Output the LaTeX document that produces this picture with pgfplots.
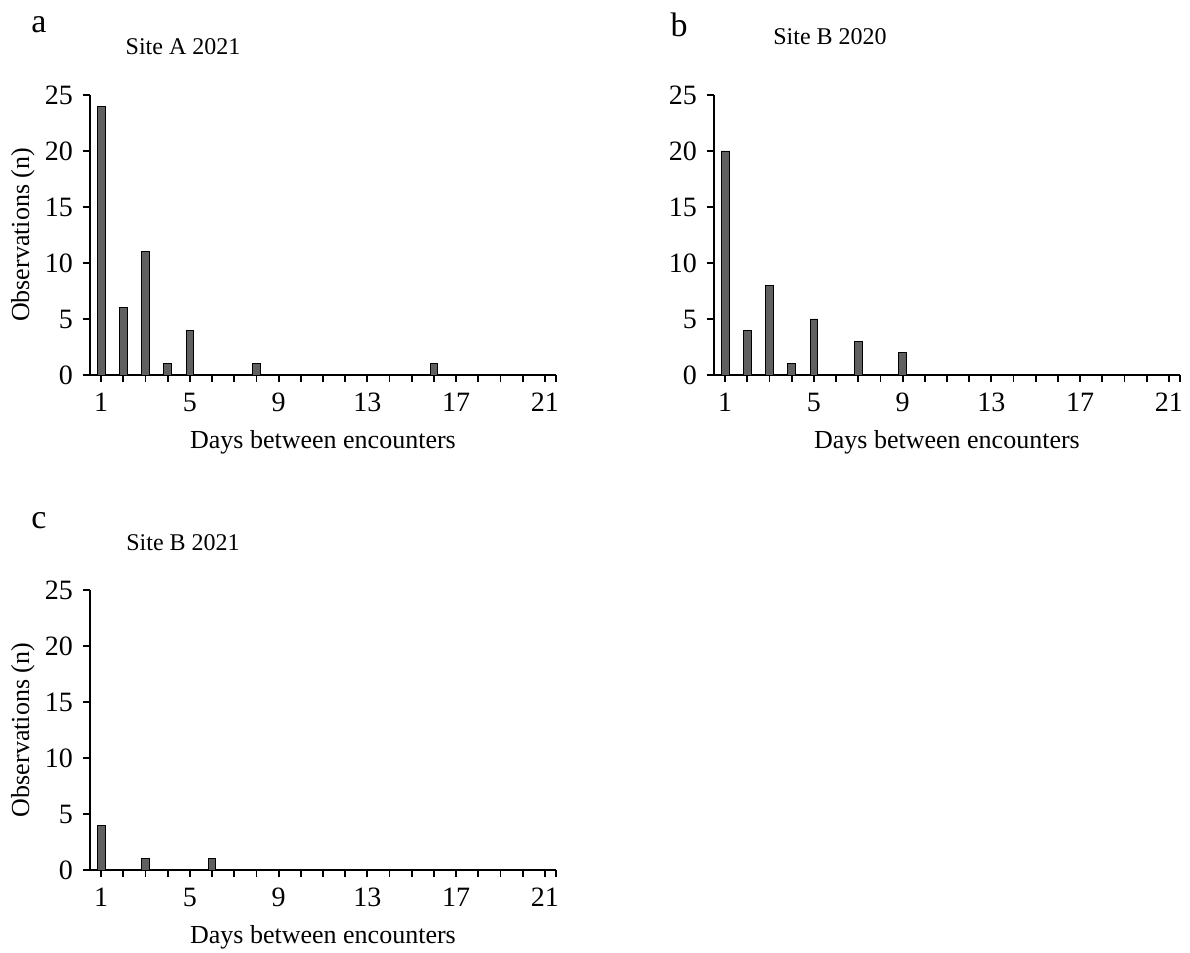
\documentclass[border=0pt]{standalone}
\usepackage{pgfplots}
\pgfplotsset{compat=1.18}
\usepackage{fontspec}
\setmainfont{Liberation Serif}
\definecolor{bargray}{RGB}{96,96,96}

\pgfplotsset{
  panel/.style={
    scale only axis,
    width=233pt, height=140pt,
    xmin=0.5, xmax=21.5, ymin=0, ymax=25,
    axis x line=bottom, axis y line=left,
    axis line style={line width=0.9pt, black, -},
    x axis line style={shorten <=-3.5pt},
    tick style={line width=0.9pt, black},
    tick align=outside,
    major tick length=3.5pt,
    xtick={1,...,21},
    xticklabels={1,,,,5,,,,9,,,,13,,,,17,,,,21},
    extra x ticks={21.5}, extra x tick labels={},
    ytick={0,5,10,15,20,25},
    /pgf/number format/assume math mode=true,
    ticklabel style={font=\fontsize{14}{14}\selectfont},
    xticklabel style={yshift=-2pt},
    yticklabel style={xshift=-1.5pt},
    xlabel={Days between encounters},
    every axis x label/.style={at={(axis description cs:0.5,-0.239)}, anchor=center, font=\fontsize{13}{13}\selectfont},
    every axis y label/.style={at={(axis description cs:-0.1438,0.5)}, rotate=90, anchor=center, font=\fontsize{13}{13}\selectfont},
    ybar, bar width=3.85pt,
    cycle list={{fill=bargray, draw=bargray, line width=0pt}},
  }
}

\begin{document}
\begin{tikzpicture}
\useasboundingbox (0,0) rectangle (595pt,476.5pt);

% panel a
\begin{axis}[panel, at={(45pt,289pt)}, anchor=origin, ylabel={Observations (n)}]
\addplot coordinates {(1,24) (2,6) (3,11) (4,1) (5,4) (8,1) (16,1)};
\end{axis}

% panel b
\begin{axis}[panel, at={(357pt,289pt)}, anchor=origin]
\addplot coordinates {(1,20) (2,4) (3,8) (4,1) (5,5) (7,3) (9,2)};
\end{axis}

% panel c
\begin{axis}[panel, at={(45pt,41.5pt)}, anchor=origin, ylabel={Observations (n)}]
\addplot coordinates {(1,4) (3,1) (6,1)};
\end{axis}

\node[font=\fontsize{17}{17}\selectfont] at (19.5pt,464pt) {a};
\node[font=\fontsize{17}{17}\selectfont] at (339.5pt,464pt) {b};
\node[font=\fontsize{17}{17}\selectfont] at (19.5pt,216pt) {c};
\node[font=\fontsize{12}{12}\selectfont] at (91.5pt,453pt) {Site A 2021};
\node[font=\fontsize{12}{12}\selectfont] at (415pt,458pt) {Site B 2020};
\node[font=\fontsize{12}{12}\selectfont] at (91.5pt,205pt) {Site B 2021};
\end{tikzpicture}
\end{document}
